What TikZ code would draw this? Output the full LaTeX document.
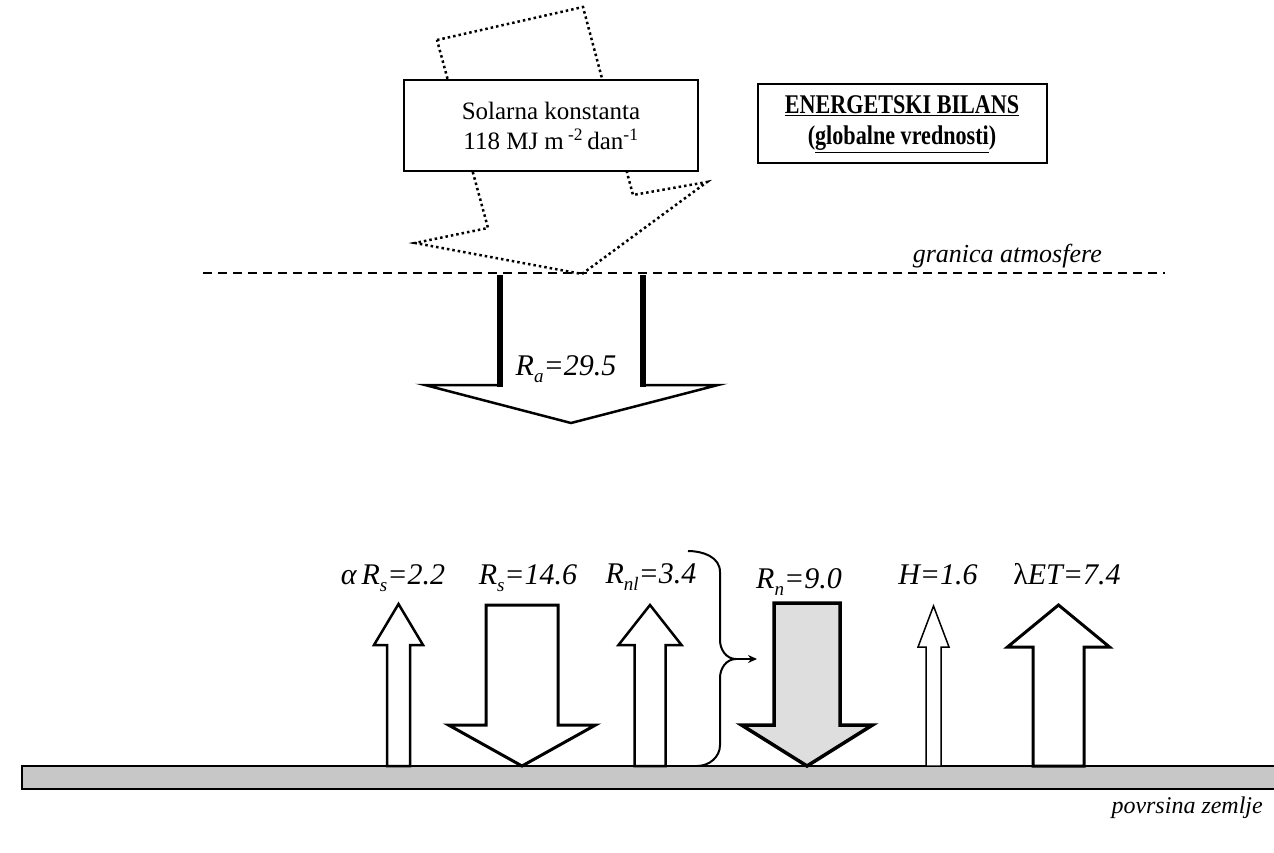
\documentclass[tikz,border=0pt]{standalone}
\usepackage{fontspec}
\setmainfont{Liberation Serif}
\usetikzlibrary{arrows.meta}

\tikzset{
  blk/.style={draw, line width=2.5pt, fill=white, line join=miter},
  lbl/.style={font=\fontsize{30}{32}\selectfont\itshape, anchor=base, inner sep=0pt},
  tbox/.style={draw, line width=2pt, fill=white, align=center, inner sep=0pt},
}

% block arrows: [opts]{center x}{half shaft}{half head}{tip/top y}{head base y}
\newcommand{\upblk}[6][]{\draw[blk,#1] (#2-#3,766) -- (#2-#3,#6) -- (#2-#4,#6) -- (#2,#5) -- (#2+#4,#6) -- (#2+#3,#6) -- (#2+#3,766) -- cycle;}
\newcommand{\downblk}[6][]{\draw[blk,#1] (#2-#3,#5) -- (#2-#3,#6) -- (#2-#4,#6) -- (#2,766) -- (#2+#4,#6) -- (#2+#3,#6) -- (#2+#3,#5) -- cycle;}
% low subscript
\newcommand{\lowsub}[1]{\raisebox{-7pt}{\fontsize{19}{20}\selectfont #1}}

\begin{document}
\begin{tikzpicture}[x=1pt, y=-1pt]
    \useasboundingbox[fill=white] (0,0) rectangle (1274,853);

    % incoming sunlight
    \draw[line width=2.5pt, dash pattern=on 2.5pt off 3pt] (437,40) -- (583,7) -- (633,195) -- (707,182) -- (582,274) -- (415,243) -- (488,228) -- cycle;
    \node[tbox, minimum width=294pt, minimum height=91pt, font=\fontsize{25}{30}\selectfont] (solar) at (551,126)
        {Solarna konstanta\\118 MJ m\,\textsuperscript{-2}\,dan\textsuperscript{-1}};

    \node[tbox, minimum width=289pt, minimum height=79pt, font=\fontsize{27}{31}\selectfont\bfseries] (title) at (902,124)
        {\scalebox{0.82}[1]{\underline{ENERGETSKI BILANS}}\\\scalebox{0.82}[1]{(\underline{globalne vrednosti})}};

    % top of the atmosphere
    \draw[line width=2pt, dash pattern=on 9pt off 6pt] (203,273) -- (1165,273);
    \node[anchor=base east, inner sep=0pt, font=\fontsize{26}{28}\selectfont\itshape] (atm) at (1102,262) {granica atmosfere};

    % extraterrestrial radiation
    \draw[line width=2.5pt, fill=white, line join=miter] (500,385) -- (425,385) -- (571,423) -- (718,385) -- (643,385);
    \draw[line width=6pt] (500,275) -- (500,387);
    \draw[line width=6pt] (643,275) -- (643,387);
    \node[lbl] (ra) at (566,375) {R\lowsub{a}=29.5};

    % ground
    \draw[line width=2pt, fill=black!22] (22,766) rectangle (1290,789);
    \node[anchor=base east, inner sep=0pt, font=\fontsize{24}{26}\selectfont\itshape] (zem) at (1263,813) {povrsina zemlje};

    % fluxes at the surface
    \upblk{398.5}{11.5}{24.5}{604}{645}
    \downblk[line width=3pt]{522}{36}{73.5}{605}{725}
    \upblk{650}{15.5}{31.5}{605}{645}
    \downblk[line width=3.5pt, fill=black!13]{807}{33}{65.5}{603}{725}
    \upblk[line width=1.5pt]{933.5}{7.5}{15.5}{606}{647}
    \upblk[line width=3pt]{1058.5}{25.5}{51}{605}{647}

    \node[lbl] (lalb) at (393,584) {α\,R\lowsub{s}=2.2};
    \node[lbl] (lrs) at (528,584) {R\lowsub{s}=14.6};
    \node[lbl] (lrnl) at (651,583) {R\lowsub{nl}=3.4};
    \node[lbl] (lrn) at (799,588) {R\lowsub{n}=9.0};
    \node[lbl] (lh) at (938,584) {H=1.6};
    \node[lbl] (let) at (1067,584) {{\upshape λ}ET=7.4};

    % net radiation brace
    \coordinate (cusp) at (736,659);
    \coordinate (rnin) at (757,659);
    \draw[line width=2pt] (688,551) to[out=0,in=90] (720,572) -- (720,640) to[out=-90,in=180] (cusp)
        to[out=180,in=90] (720,678) -- (720,745) to[out=-90,in=0] (697,766);
    \draw[line width=2pt, -{Stealth[length=9pt,width=8pt]}] (cusp) -- (rnin);
\end{tikzpicture}
\end{document}
